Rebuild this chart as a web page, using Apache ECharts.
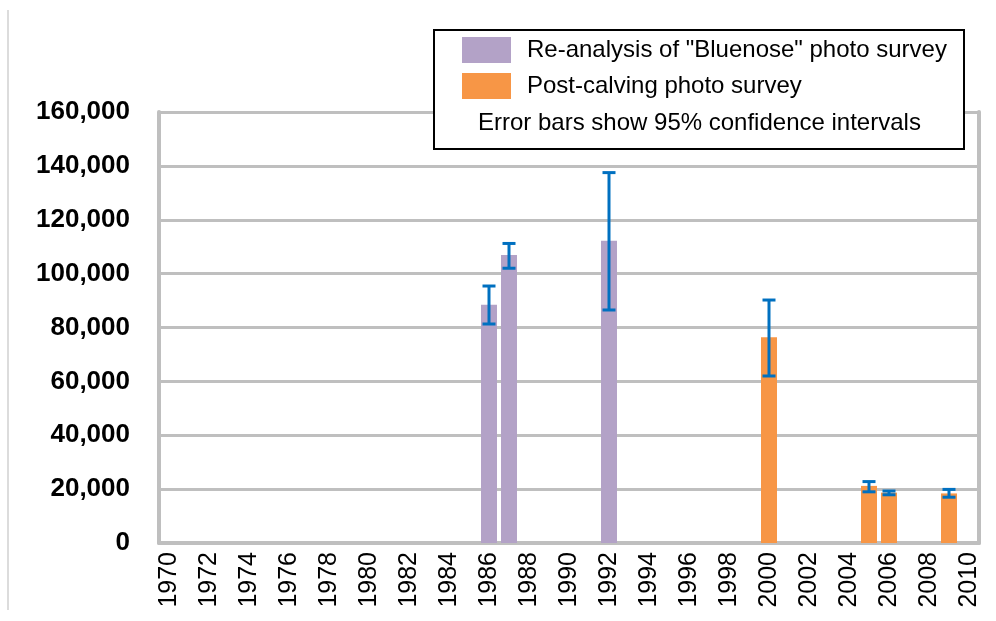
<!DOCTYPE html>
<html>
<head>
<meta charset="utf-8">
<script src="https://cdn.jsdelivr.net/npm/echarts@6/dist/echarts.min.js"></script>
<style>
  html, body { margin: 0; padding: 0; background: #fff; }
  #main { width: 996px; height: 621px; }
</style>
</head>
<body>
<div id="main"></div>
<script>
// years on the category axis
const years = ['1970', '1971', '1972', '1973', '1974', '1975', '1976', '1977', '1978', '1979',
  '1980', '1981', '1982', '1983', '1984', '1985', '1986', '1987', '1988', '1989',
  '1990', '1991', '1992', '1993', '1994', '1995', '1996', '1997', '1998', '1999',
  '2000', '2001', '2002', '2003', '2004', '2005', '2006', '2007', '2008', '2009', '2010']

// Re-analysis of "Bluenose" photo survey
const bluenoseYears = ['1986', '1987', '1992']
const bluenoseValues = [88400, 106900, 112200]

// Post-calving photo survey
const postYears = ['2000', '2005', '2006', '2009']
const postValues = [76400, 21200, 18700, 18400]

// 95% confidence intervals
const errYears = ['1986', '1987', '1992', '2000', '2005', '2006', '2009']
const errLow = [81300, 102000, 86500, 62000, 19000, 17900, 17000]
const errHigh = [95400, 111200, 137500, 90200, 22800, 19300, 19900]

const gray = '#bfbfbf'
const axisFont = 'Liberation Sans, Arial, sans-serif'

let myChart = echarts.init(document.getElementById('main'))

myChart.setOption({
  animation: false,
  grid: { left: 159, right: 17, top: 112, bottom: 78 },
  legend: {
    orient: 'vertical',
    left: 462,
    top: 37,
    padding: 0,
    itemWidth: 49,
    itemHeight: 26,
    itemGap: 10,
    z: 20,
    textStyle: { fontFamily: axisFont, fontSize: 24, color: '#000', padding: [2, 0, 0, 11] },
    data: [
      { name: 'Re-analysis of "Bluenose" photo survey', icon: 'rect' },
      { name: 'Post-calving photo survey', icon: 'rect' }
    ]
  },
  graphic: [
    {
      type: 'line',
      z: 1,
      shape: { x1: 8, y1: 10, x2: 8, y2: 610 },
      style: { stroke: '#d0d0d0', lineWidth: 1.5 }
    },
    {
      type: 'rect',
      z: 10,
      shape: { x: 434, y: 30, width: 530, height: 119 },
      style: { fill: '#fff', stroke: '#000', lineWidth: 2 }
    },
    {
      type: 'text',
      z: 20,
      x: 478,
      y: 123,
      style: {
        text: 'Error bars show 95% confidence intervals',
        font: '24px Liberation Sans, Arial, sans-serif',
        fill: '#000',
        verticalAlign: 'middle'
      }
    }
  ],
  xAxis: [
    {
      type: 'category',
      data: years,
      boundaryGap: true,
      axisLine: { lineStyle: { color: gray, width: 4 } },
      axisTick: { interval: 0, length: 6, lineStyle: { color: gray, width: 3 } },
      axisLabel: {
        interval: 1,
        rotate: 90,
        margin: 9,
        color: '#000',
        fontFamily: axisFont,
        fontSize: 25
      },
      splitLine: { show: false }
    },
    {
      // second axis only to get the ticks crossing into the plot
      type: 'category',
      data: years,
      position: 'bottom',
      boundaryGap: true,
      axisLine: { show: false },
      axisTick: { interval: 0, inside: true, length: 9, lineStyle: { color: gray, width: 3 } },
      axisLabel: { show: false },
      splitLine: { show: false }
    }
  ],
  yAxis: [
    {
      type: 'value',
      min: 0,
      max: 160000,
      interval: 20000,
      axisLine: { show: true, lineStyle: { color: gray, width: 4 } },
      axisTick: { show: false },
      axisLabel: {
        margin: 29,
        color: '#000',
        fontFamily: axisFont,
        fontWeight: 'bold',
        fontSize: 26,
        formatter: (v) => v.toLocaleString('en-US')
      },
      splitLine: { lineStyle: { color: gray, width: 3 } }
    },
    {
      // right border of the plot
      type: 'value',
      position: 'right',
      min: 0,
      max: 160000,
      interval: 20000,
      axisLine: { show: true, lineStyle: { color: gray, width: 4 } },
      axisTick: { show: false },
      axisLabel: { show: false },
      splitLine: { show: false }
    }
  ],
  series: [
    {
      name: 'Re-analysis of "Bluenose" photo survey',
      type: 'bar',
      barWidth: 16,
      barGap: '-100%',
      itemStyle: { color: '#b3a2c7' },
      data: bluenoseYears.map((y, i) => [y, bluenoseValues[i]])
    },
    {
      name: 'Post-calving photo survey',
      type: 'bar',
      barWidth: 16,
      barGap: '-100%',
      itemStyle: { color: '#f79646' },
      data: postYears.map((y, i) => [y, postValues[i]])
    },
    {
      name: 'error',
      type: 'custom',
      z: 5,
      data: errYears.map((y, i) => [y, errLow[i], errHigh[i]]),
      renderItem: (params, api) => {
        const lo = api.coord([api.value(0), api.value(1)])
        const hi = api.coord([api.value(0), api.value(2)])
        const half = 6.5
        const style = { stroke: '#0070c0', lineWidth: 3 }
        return {
          type: 'group',
          children: [
            { type: 'line', shape: { x1: hi[0], y1: hi[1], x2: lo[0], y2: lo[1] }, style: style },
            { type: 'line', shape: { x1: hi[0] - half, y1: hi[1], x2: hi[0] + half, y2: hi[1] }, style: style },
            { type: 'line', shape: { x1: lo[0] - half, y1: lo[1], x2: lo[0] + half, y2: lo[1] }, style: style }
          ]
        }
      }
    }
  ]
})
</script>
</body>
</html>
